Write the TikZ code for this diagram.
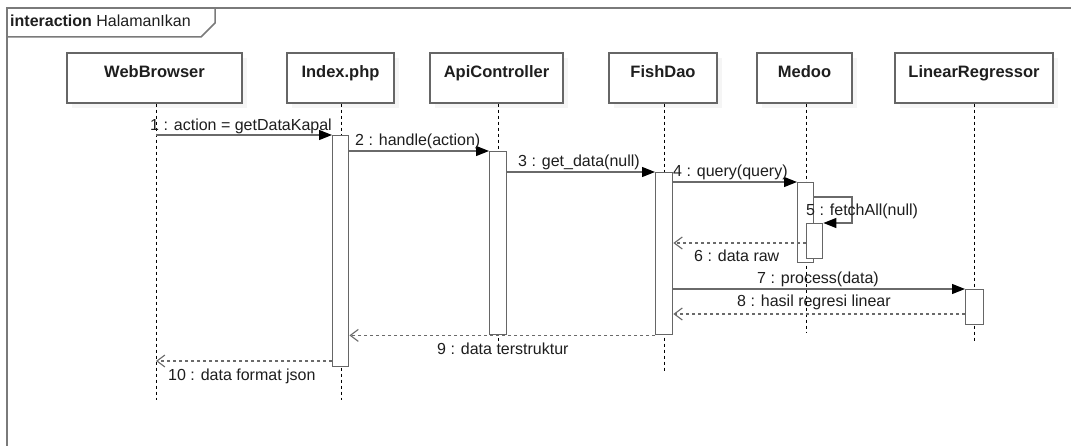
\documentclass[tikz,border=0pt]{standalone}
\usepackage{fontspec}
\setmainfont{Liberation Sans}
\usetikzlibrary{arrows.meta,calc,shadows}
\definecolor{frm}{HTML}{7A7A7A}
\definecolor{bxc}{HTML}{666666}
\definecolor{lnc}{HTML}{6A6A6A}
\definecolor{txt}{HTML}{1E1E1E}
\begin{document}
\begin{tikzpicture}[x=1pt,y=-1pt,
  frame/.style={draw=frm,line width=1.5pt},
  lifebox/.style={draw=bxc,line width=1.4pt,fill=white,minimum height=50pt,inner sep=0pt,
    drop shadow={shadow xshift=5pt,shadow yshift=-5pt,fill=black!7}},
  boxtitle/.style={anchor=base,inner sep=0pt,text=txt,font=\fontsize{16.5}{19}\selectfont\bfseries},
  lifeline/.style={draw=black,line width=1pt,dash pattern=on 3pt off 3pt},
  actbar/.style={draw=bxc,line width=1.4pt,fill=white,anchor=north west,inner sep=0pt},
  msg/.style={draw=lnc,line width=1.3pt,-{Triangle[length=13pt,width=10pt,color=black]}},
  ret/.style={draw=lnc,line width=1.2pt,dash pattern=on 3pt off 3pt,-{Straight Barb[length=8pt,width=12pt,color=lnc,line width=1.1pt]}},
  lbl/.style={anchor=base west,inner sep=0pt,text=txt,font=\fontsize{16}{19}\selectfont}
]
\useasboundingbox (0,0) rectangle (1071,446);
\fill[white] (0,0) rectangle (1071,446);

% frame and tab
\draw[frame] (7,446) -- (7,8) -- (1071,8);
\draw[frame] (7,37) -- (201,37) -- (215,23) -- (215,8);
\node[lbl,anchor=base west] (title) at (10,27) {\fontsize{16}{19}\selectfont\textbf{interaction} HalamanIkan};

% lifeline heads
\node[lifebox,minimum width=175pt] (wb) at (154.5,78) {};
\node[lifebox,minimum width=107pt] (ix) at (340.5,78) {};
\node[lifebox,minimum width=133pt] (ac) at (496.5,78) {};
\node[lifebox,minimum width=108pt] (fd) at (663,78) {};
\node[lifebox,minimum width=95pt] (md) at (804.5,78) {};
\node[lifebox,minimum width=158pt] (lr) at (974,78) {};
\node[boxtitle] (wbt) at (wb.center) {WebBrowser};
\node[boxtitle] (ixt) at (ix.center) {Index.php};
\node[boxtitle] (act) at (ac.center) {ApiController};
\node[boxtitle] (fdt) at (fd.center) {FishDao};
\node[boxtitle] (mdt) at (md.center) {Medoo};
\node[boxtitle] (lrt) at (lr.center) {LinearRegressor};

% lifelines
\coordinate (wbE) at (156,400);
\coordinate (ixE) at (341,400);
\coordinate (acE) at (498,352);
\coordinate (fdE) at (664,372);
\coordinate (mdE) at (806,332);
\coordinate (lrE) at (974,343);
\draw[lifeline] (wbE |- wb.south) -- (wbE);
\draw[lifeline] (ixE |- ix.south) -- (ixE);
\draw[lifeline] (acE |- ac.south) -- (acE);
\draw[lifeline] (fdE |- fd.south) -- (fdE);
\draw[lifeline] (mdE |- md.south) -- (mdE);
\draw[lifeline] (lrE |- lr.south) -- (lrE);

% activation bars
\node[actbar,minimum width=16pt,minimum height=231pt] (ixA) at (332,135) {};
\node[actbar,minimum width=17pt,minimum height=183pt] (acA) at (489,151) {};
\node[actbar,minimum width=17pt,minimum height=162pt] (fdA) at (655,172) {};
\node[actbar,minimum width=16pt,minimum height=80pt] (mdA) at (797,182) {};
\node[actbar,minimum width=16pt,minimum height=35pt] (mdB) at (806,223) {};
\node[actbar,minimum width=18pt,minimum height=35pt] (lrA) at (965,289) {};

% message coordinates
\coordinate (m1) at (156,135);
\coordinate (m5a) at (813,197);
\coordinate (m5b) at (852,197);
\coordinate (m6) at (0,243);
\coordinate (m8) at (0,314);
\coordinate (m10) at (156,361);

% messages
\draw[msg] (m1) -- (ixA.north west);
\draw[msg] (ixA.east |- acA.north) -- (acA.north west);
\draw[msg] (acA.east |- fdA.north) -- (fdA.north west);
\draw[msg] (fdA.east |- mdA.north) -- (mdA.north west);
\draw[msg] (m5a) -- (m5b) |- (mdB.north east);
\draw[ret] (mdB.west |- m6) -- (fdA.east |- m6);
\draw[msg] (fdA.east |- lrA.north) -- (lrA.north west);
\draw[ret] (lrA.west |- m8) -- (fdA.east |- m8);
\draw[ret] (fdA.south west) -- (ixA.east |- fdA.south);
\draw[ret] (ixA.west |- m10) -- (m10);

% labels
\node[lbl] (l1) at (150,131) {1 : action = getDataKapal};
\node[lbl] (l2) at (355,146) {2 : handle(action)};
\node[lbl] (l3) at (518,167) {3 : get\_data(null)};
\node[lbl] (l4) at (673,177) {4 : query(query)};
\node[lbl] (l5) at (806,216) {5 : fetchAll(null)};
\node[lbl] (l6) at (694,262) {6 : data raw};
\node[lbl] (l7) at (757,284) {7 : process(data)};
\node[lbl] (l8) at (737,307) {8 : hasil regresi linear};
\node[lbl] (l9) at (437,354) {9 : data terstruktur};
\node[lbl] (l10) at (168,381) {10 : data format json};
\end{tikzpicture}
\end{document}
